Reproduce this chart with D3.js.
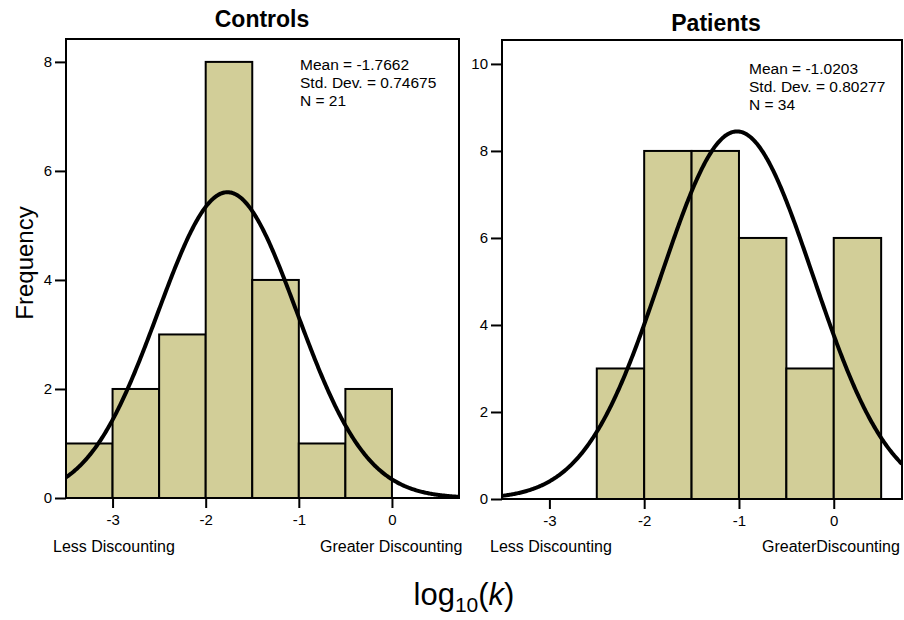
<!DOCTYPE html>
<meta charset='utf-8'>
<style>
body { margin: 0; background: #fff; }
text { font-family: 'Liberation Sans', Arial, sans-serif; fill: #000; }
.frame { fill: none; stroke: #000; stroke-width: 2px; }
.bar { fill: #d2ce98; stroke: #000; stroke-width: 2px; }
.curve { fill: none; stroke: #000; stroke-width: 4px; }
.tick line { stroke: #000; stroke-width: 2px; }
.tick text { font-size: 15px; }
</style>
<svg width="904" height="620"></svg>
<script src="https://d3js.org/d3.v7.min.js"></script>
<script>
// histogram data (bin starts, width 0.5)
const binWidth = 0.5;
const controlsBins = [-3.5, -3, -2.5, -2, -1.5, -1, -0.5];
const controlsCounts = [1, 2, 3, 8, 4, 1, 2];
const patientsBins = [-2.5, -2, -1.5, -1, -0.5, 0];
const patientsCounts = [3, 8, 8, 6, 3, 6];

const controlsStats = ['Mean = -1.7662', 'Std. Dev. = 0.74675', 'N = 21'];
const patientsStats = ['Mean = -1.0203', 'Std. Dev. = 0.80277', 'N = 34'];
const controlsFit = { mean: -1.7662, sd: 0.74675, n: 21 };
const patientsFit = { mean: -1.0203, sd: 0.80277, n: 34 };

const xTicks = [-3, -2, -1, 0];
const controlsYTicks = [0, 2, 4, 6, 8];
const patientsYTicks = [0, 2, 4, 6, 8, 10];

const svg = d3.select('svg');

function panel(opt) {
  const x = d3.scaleLinear().domain([-3.5, 0.72]).range([opt.left, opt.right]);
  const y = d3.scaleLinear().domain([0, opt.yMax]).range([opt.bottom, opt.top]);
  const g = svg.append('g');

  const clipId = 'clip' + opt.left;
  g.append('clipPath').attr('id', clipId)
    .append('rect')
    .attr('x', opt.left).attr('y', opt.top)
    .attr('width', opt.right - opt.left).attr('height', opt.bottom - opt.top);

  g.selectAll('rect.bar')
    .data(opt.bins.map((b, i) => ({ x0: b, count: opt.counts[i] })))
    .join('rect')
    .attr('class', 'bar')
    .attr('x', d => x(d.x0))
    .attr('width', d => x(d.x0 + binWidth) - x(d.x0))
    .attr('y', d => y(d.count))
    .attr('height', d => y(0) - y(d.count));

  // fitted normal curve scaled to counts
  const f = opt.fit;
  const pts = d3.range(-3.5, 0.7201, 0.01).map(v => [v,
    f.n * binWidth * Math.exp(-0.5 * Math.pow((v - f.mean) / f.sd, 2)) / (f.sd * Math.sqrt(2 * Math.PI))]);
  g.append('path')
    .attr('class', 'curve')
    .attr('clip-path', `url(#${clipId})`)
    .attr('d', d3.line().x(d => x(d[0])).y(d => y(d[1]))(pts));

  g.append('rect').attr('class', 'frame')
    .attr('x', opt.left).attr('y', opt.top)
    .attr('width', opt.right - opt.left).attr('height', opt.bottom - opt.top);

  g.append('g')
    .attr('transform', `translate(${opt.left},0)`)
    .call(d3.axisLeft(y).tickValues(opt.yTicks).tickSize(11).tickPadding(3).tickFormat(d => String(d)))
    .call(a => a.select('.domain').remove())
    .attr('font-family', null).attr('font-size', null);

  g.append('g')
    .attr('transform', `translate(0,${opt.bottom})`)
    .call(d3.axisBottom(x).tickValues(xTicks).tickSize(10).tickPadding(6).tickFormat(d => String(d)))
    .call(a => a.select('.domain').remove())
    .attr('font-family', null).attr('font-size', null);

  g.append('text')
    .attr('x', opt.titleX).attr('y', opt.titleY)
    .attr('text-anchor', 'middle')
    .style('font-size', '23px').style('font-weight', 'bold')
    .text(opt.title);

  g.append('g').selectAll('text')
    .data(opt.stats)
    .join('text')
    .attr('x', opt.statsX)
    .attr('y', (d, i) => opt.statsY + i * 18)
    .style('font-size', '15.5px')
    .text(d => d);

  g.append('text').attr('x', opt.lessX).attr('y', 552)
    .style('font-size', '16px').text('Less Discounting');
  g.append('text').attr('x', opt.greaterX).attr('y', 552)
    .style('font-size', '16px').text(opt.greaterLabel);
}

panel({
  left: 66, right: 459, top: 39, bottom: 498, yMax: 8.42,
  bins: controlsBins, counts: controlsCounts, fit: controlsFit,
  yTicks: controlsYTicks, stats: controlsStats, statsX: 300, statsY: 70,
  title: 'Controls', titleX: 262, titleY: 27,
  lessX: 53, greaterX: 320, greaterLabel: 'Greater Discounting'
});

panel({
  left: 502, right: 902, top: 40, bottom: 499, yMax: 10.55,
  bins: patientsBins, counts: patientsCounts, fit: patientsFit,
  yTicks: patientsYTicks, stats: patientsStats, statsX: 749, statsY: 74,
  title: 'Patients', titleX: 716, titleY: 31,
  lessX: 490, greaterX: 762, greaterLabel: 'GreaterDiscounting'
});

svg.append('text')
  .attr('transform', 'translate(33,263) rotate(-90)')
  .attr('text-anchor', 'middle')
  .style('font-size', '24px')
  .text('Frequency');

const xl = svg.append('text')
  .attr('x', 464).attr('y', 605)
  .attr('text-anchor', 'middle')
  .style('font-size', '31px');
xl.append('tspan').text('log');
xl.append('tspan').attr('dy', 7).style('font-size', '21px').text('10');
xl.append('tspan').attr('dy', -7).text('(');
xl.append('tspan').style('font-style', 'italic').text('k');
xl.append('tspan').text(')');
</script>
